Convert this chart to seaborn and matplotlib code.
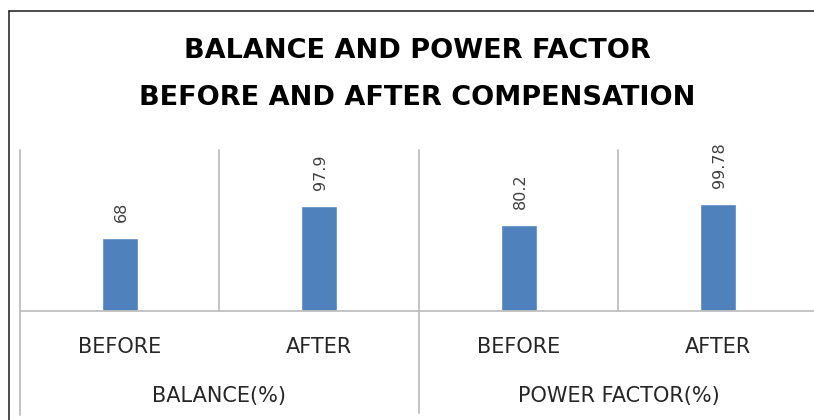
"""
Balance and power factor before/after compensation - Excel-style bar chart.
"""
import pandas as pd
import matplotlib
matplotlib.use("Agg")
import matplotlib.pyplot as plt
import seaborn as sns
from matplotlib.lines import Line2D

# Chart data
groups = ["BALANCE(%)", "POWER FACTOR(%)"]
phases = ["BEFORE", "AFTER", "BEFORE", "AFTER"]
values = [68, 97.9, 80.2, 99.78]
title_lines = ["BALANCE AND POWER FACTOR", "BEFORE AND AFTER COMPENSATION"]

sns.set_style("white")
plt.rcParams['font.family'] = ['DejaVu Sans']

keys = [f"{groups[i // 2]}|{p}" for i, p in enumerate(phases)]
df = pd.DataFrame({"key": keys, "value": values})

fig = plt.figure(figsize=(8.14, 4.2), dpi=100)
ax = fig.add_axes([20 / 814, 1 - 311 / 420, 798 / 814, 161 / 420])

sns.barplot(data=df, x="key", y="value", order=keys, width=0.18,
            color="#4F81BD", saturation=1, ax=ax)
ax.set_xlim(-0.5, len(keys) - 0.5)
ax.set_ylim(0, 150)
ax.set_xlabel("")
ax.set_ylabel("")
ax.set_xticks([])
ax.set_yticks([])

for s in ["top", "right", "left"]:
    ax.spines[s].set_visible(False)
ax.spines["bottom"].set_color("#BFBFBF")
ax.spines["bottom"].set_linewidth(1.3)

# Value labels above bars
for i, v in enumerate(values):
    ax.annotate(f"{v:g}", xy=(i, v), xytext=(1, 11.5), textcoords="offset points",
                rotation=90, ha="center", va="bottom", fontsize=11.5, color="#404040")

# Category separators (outer ones reach down through the group labels)
xt = ax.get_xaxis_transform()
grid_kw = dict(color="#BFBFBF", lw=1.3, transform=xt, clip_on=False)
for x, low in [(-0.5, -0.646), (0.5, 0), (1.5, -0.634), (2.5, 0)]:
    ax.add_line(Line2D([x, x], [1, low], **grid_kw))

# Phase labels and group labels
for i, p in enumerate(phases):
    ax.text(i, -0.258, p, transform=xt, ha="center", va="baseline",
            fontsize=15, color="#262626")
for j, g in enumerate(groups):
    ax.text(2 * j + 0.5, -0.565, g, transform=xt, ha="center", va="baseline",
            fontsize=15, color="#262626")

# Title
fig.text(0.5125, 1 - 58.3 / 420, title_lines[0], ha="center", va="baseline",
         fontsize=19.5, fontweight="bold", color="black")
fig.text(0.5125, 1 - 105 / 420, title_lines[1], ha="center", va="baseline",
         fontsize=19.5, fontweight="bold", color="black")

# Outer chart frame (left and top edges visible)
fig.add_artist(Line2D([8.5 / 814, 8.5 / 814], [0, 1 - 11 / 420], color="#1a1a1a",
                      lw=1.1, transform=fig.transFigure))
fig.add_artist(Line2D([8.5 / 814, 1], [1 - 11 / 420, 1 - 11 / 420], color="#1a1a1a",
                      lw=1.1, transform=fig.transFigure))

fig.savefig("out.png", dpi=100)
plt.close(fig)
